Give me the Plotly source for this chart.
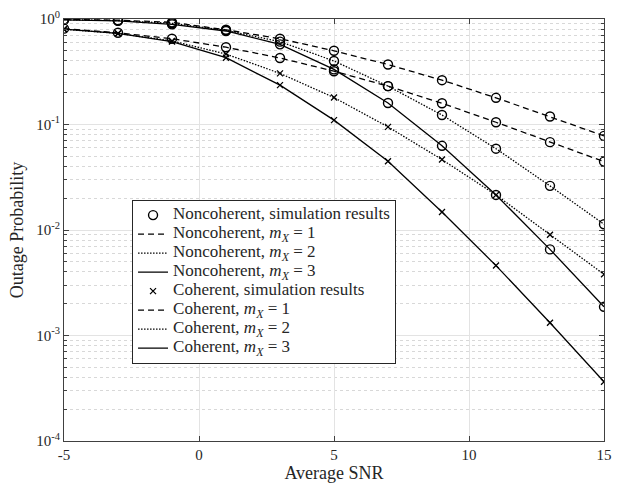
import plotly.graph_objects as go

snr = [-5, -3, -1, 1, 3, 5, 7, 9, 11, 13, 15]

# Noncoherent
nc_m1 = [0.99, 0.975, 0.93, 0.79, 0.65, 0.50, 0.37, 0.263, 0.179, 0.119, 0.078]
nc_m2 = [0.985, 0.965, 0.91, 0.78, 0.61, 0.40, 0.231, 0.123, 0.059, 0.0262, 0.01135]
nc_m3 = [0.98, 0.96, 0.89, 0.77, 0.575, 0.333, 0.160, 0.0628, 0.0215, 0.00655, 0.00187]
# Coherent
co_m1 = [0.81, 0.74, 0.65, 0.54, 0.427, 0.32, 0.231, 0.159, 0.105, 0.068, 0.0445]
co_m2 = [0.80, 0.73, 0.62, 0.465, 0.305, 0.180, 0.095, 0.0465, 0.0215, 0.0090, 0.0038]
co_m3 = [0.80, 0.73, 0.61, 0.43, 0.236, 0.110, 0.0448, 0.0148, 0.0046, 0.00132, 0.000364]

ytick_vals = [1e-4, 1e-3, 1e-2, 1e-1, 1e0]
ytick_text = ["10<sup>-4</sup>", "10<sup>-3</sup>", "10<sup>-2</sup>", "10<sup>-1</sup>", "10<sup>0</sup>"]
xtick_vals = [-5, 0, 5, 10, 15]

FONT = "Liberation Serif"
BLK = "black"
TXT = "#262626"
DASH = "6px,4px"
DOT = "1.5px,1.5px"
LW = 1.3

circ = dict(symbol="circle-open", size=9, color=BLK, line=dict(width=1.4, color=BLK))
xm = dict(symbol="x-thin", size=6, color=BLK, line=dict(width=1.3, color=BLK))

mx = "<i>m</i><sub><i>X</i></sub>"


def lg(s):
    return f'<span style="font-size:17px">{s}</span>'


fig = go.Figure()
fig.add_trace(go.Scatter(x=snr * 3, y=nc_m1 + nc_m2 + nc_m3, mode="markers", marker=circ,
                         name=lg("Noncoherent, simulation results")))
fig.add_trace(go.Scatter(x=snr, y=nc_m1, mode="lines", line=dict(color=BLK, width=LW, dash=DASH),
                         name=lg(f"Noncoherent, {mx} = 1")))
fig.add_trace(go.Scatter(x=snr, y=nc_m2, mode="lines", line=dict(color=BLK, width=LW, dash=DOT),
                         name=lg(f"Noncoherent, {mx} = 2")))
fig.add_trace(go.Scatter(x=snr, y=nc_m3, mode="lines", line=dict(color=BLK, width=LW),
                         name=lg(f"Noncoherent, {mx} = 3")))
fig.add_trace(go.Scatter(x=snr * 2, y=co_m2 + co_m3, mode="markers", marker=xm,
                         name=lg("Coherent, simulation results")))
fig.add_trace(go.Scatter(x=snr, y=co_m1, mode="lines", line=dict(color=BLK, width=LW, dash=DASH),
                         name=lg(f"Coherent, {mx} = 1")))
fig.add_trace(go.Scatter(x=snr, y=co_m2, mode="lines", line=dict(color=BLK, width=LW, dash=DOT),
                         name=lg(f"Coherent, {mx} = 2")))
fig.add_trace(go.Scatter(x=snr, y=co_m3, mode="lines", line=dict(color=BLK, width=LW),
                         name=lg(f"Coherent, {mx} = 3")))
fig.add_trace(go.Scatter(x=snr, y=co_m1, mode="markers", marker=circ, showlegend=False))

minor_vals = [k * 10 ** e for e in range(-4, 0) for k in range(2, 10)]

fig.update_layout(
    width=621, height=488,
    margin=dict(l=64, r=9, t=12, b=47),
    paper_bgcolor="white", plot_bgcolor="white",
    font=dict(family=FONT, size=15, color=TXT),
    showlegend=True,
    legend=dict(x=0.126, y=0.572, xanchor="left", yanchor="top",
                bgcolor="white", bordercolor="#262626", borderwidth=1,
                font=dict(family=FONT, size=11, color=TXT),
                tracegroupgap=0, itemwidth=30),
)
fig.update_xaxes(
    range=[-5, 15], tickvals=xtick_vals, ticktext=[str(v) for v in xtick_vals],
    showline=True, linecolor="#404040", linewidth=1, mirror="ticks",
    ticks="inside", ticklen=5, tickcolor="#404040",
    showgrid=True, gridcolor="#e3e3e3", gridwidth=1, zeroline=False,
    title=dict(text="Average SNR", standoff=2, font=dict(family=FONT, size=18)),
    tickfont=dict(family=FONT, size=15),
)
fig.update_yaxes(
    type="log", range=[-4, 0], tickvals=ytick_vals, ticktext=ytick_text,
    showline=True, linecolor="#404040", linewidth=1, mirror="ticks",
    ticks="inside", ticklen=5, tickcolor="#404040",
    showgrid=True, gridcolor="#e3e3e3", gridwidth=1, zeroline=False,
    minor=dict(tickvals=minor_vals, ticks="inside", ticklen=3, tickcolor="#404040",
               showgrid=True, gridcolor="#d8d8d8", griddash="dot", gridwidth=1),
    title=dict(text="Outage Probability", standoff=7, font=dict(family=FONT, size=18)),
    tickfont=dict(family=FONT, size=15),
)

fig.write_html("out.html", config={"displayModeBar": False},
               post_script="document.body.style.margin='0';")
